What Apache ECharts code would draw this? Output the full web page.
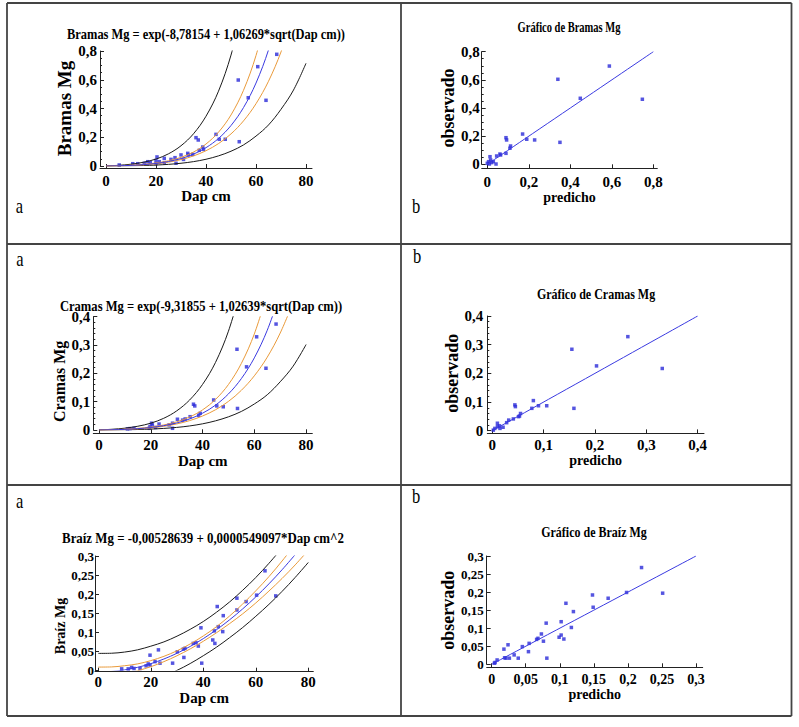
<!DOCTYPE html>
<html>
<head>
<meta charset="utf-8">
<script src="https://cdn.jsdelivr.net/npm/echarts@6/dist/echarts.min.js"></script>
<style>
html,body{margin:0;padding:0;background:#fff;}
#chart{width:799px;height:727px;}
</style>
</head>
<body>
<div id="chart"></div>
<script>
// ---------- data ----------
const dapGrid = [0,5,10,15,20,25,30,35,40,45,50,55,60,65,70,75,80];
const dapTicks = [0,20,40,60,80];
const bramasTicks = [0,0.2,0.4,0.6,0.8];
const cramasTicks = [0,0.1,0.2,0.3,0.4];
const braizTicks = [0,0.05,0.1,0.15,0.2,0.25,0.3];

// Panel 1: Bramas Mg
const bramasDap = [68.3,60.7,52.9,56.9,64.0,53.3,44.0,45.3,47.7,36.0,36.9,38.7,39.0,37.3,32.7,33.0,30.0,27.6,26.0,23.3,20.4,20.0,21.3,20.0,23.3,28.0,17.7,15.3,12.7,10.7,5.3,16.7,31.0,34.7];
const bramasMg = [0.777,0.691,0.598,0.475,0.457,0.169,0.220,0.186,0.186,0.197,0.181,0.132,0.116,0.109,0.088,0.077,0.077,0.058,0.046,0.053,0.063,0.039,0.030,0.016,0.023,0.019,0.023,0.019,0.016,0.016,0.007,0.030,0.046,0.081];
const bramasFit = [0.00015,0.00165,0.00442,0.00942,0.0178,0.0312,0.0518,0.0825,0.1274,0.1915,0.2816,0.4064,0.5770,0.8076,1.116];
const bramasPredUpper = [0.0005,0.0048,0.0124,0.0261,0.0484,0.0848,0.1408,0.2242,0.3463,0.5205,0.7716,1.126];
const bramasPredLower = [0.00005,0.00057,0.00158,0.0034,0.00655,0.01148,0.0191,0.0304,0.0469,0.0705,0.1028,0.1466,0.2081,0.2855,0.3945,0.5283,0.7144];
const bramasConfUpper = [0.00026,0.00232,0.00574,0.01159,0.0211,0.0363,0.0602,0.0970,0.1529,0.2353,0.3551,0.5267,0.7686,1.1056];
const bramasConfLower = [0.00009,0.00117,0.0034,0.00766,0.0150,0.0268,0.0445,0.0701,0.1063,0.1559,0.2233,0.3137,0.4333,0.5895,0.7935,1.055];
const bramasPred = [0.588,0.340,0.747,0.448,0.350,0.170,0.228,0.190,0.090,0.093,0.112,0.109,0.090,0.061,0.064,0.045,0.042,0.013,0.016,0.006,0.000,0.021,0.029,0.010];
const bramasObs = [0.698,0.604,0.462,0.469,0.156,0.215,0.173,0.178,0.189,0.173,0.130,0.114,0.078,0.073,0.066,0.059,0.002,0.054,0.031,0.019,0.007,0.012,0.019,0.002];
const bramasDiag = [0,0.8];

// Panel 2: Cramas Mg
const cramasDap = [68.4,60.9,53.3,57.0,64.5,53.5,44.3,45.5,48.0,36.5,37.0,39.1,38.5,35.2,33.3,32.3,30.3,28.4,27.1,28.4,23.2,20.3,20.6,19.7,21.9,19.4,13.5,12.0,11.0];
const cramasMg = [0.374,0.329,0.285,0.223,0.218,0.076,0.106,0.085,0.082,0.091,0.085,0.059,0.052,0.047,0.039,0.035,0.038,0.024,0.018,0.006,0.021,0.024,0.018,0.012,0.009,0.006,0.006,0.005,0.004];
const cramasFit = [0.00009,0.00089,0.0023,0.00478,0.00884,0.0152,0.0248,0.0389,0.0592,0.0877,0.1273,0.1815,0.2546,0.3522,0.4814];
const cramasPredUpper = [0.00028,0.00257,0.00645,0.01324,0.02404,0.0413,0.0674,0.1058,0.1609,0.2385,0.3488,0.5028];
const cramasPredLower = [0.00003,0.00031,0.00082,0.00173,0.00325,0.00559,0.00913,0.0143,0.0218,0.0323,0.0465,0.0655,0.0918,0.1245,0.1702,0.2255,0.3017];
const cramasConfUpper = [0.00016,0.00125,0.00299,0.00588,0.0105,0.0177,0.0288,0.0458,0.0710,0.1078,0.1605,0.2352,0.3391,0.4822];
const cramasConfLower = [0.00005,0.00063,0.00177,0.00389,0.00746,0.0130,0.0213,0.0331,0.0494,0.0714,0.1009,0.1401,0.1912,0.2571,0.3423,0.4503];
const cramasPred = [0.264,0.155,0.203,0.331,0.159,0.106,0.090,0.080,0.077,0.044,0.045,0.055,0.053,0.041,0.032,0.028,0.021,0.010,0.010,0.014,0.005,0.002,0.015,0.051];
const cramasObs = [0.328,0.284,0.226,0.217,0.078,0.087,0.087,0.105,0.078,0.090,0.084,0.060,0.051,0.041,0.037,0.028,0.012,0.026,0.014,0.017,0.008,0.002,0.008,0.049];
const cramasDiag = [0,0.4];

// Panel 3: Braíz Mg
const braizDap = [63.5,67.6,60.3,52.8,52.8,56.3,45.3,47.6,45.7,44.2,47.4,39.1,43.6,44.4,39.4,37.2,38.1,36.2,33.0,32.4,32.6,30.1,28.3,22.9,19.7,21.6,19.0,19.7,23.5,15.9,13.6,12.7,11.4,8.9,18.2];
const braizMg = [0.261,0.195,0.197,0.189,0.158,0.180,0.167,0.143,0.114,0.103,0.101,0.111,0.079,0.070,0.018,0.072,0.063,0.070,0.057,0.055,0.033,0.048,0.018,0.053,0.039,0.022,0.016,0.013,0.018,0.004,0.004,0.007,0.003,0.003,0.011];
const braizFit = [-0.0053,-0.0039,0.0002,0.0071,0.0167,0.0290,0.0441,0.0620,0.0826,0.1059,0.1320,0.1608,0.1924,0.2267,0.2638,0.3036];
const braizPredUpper = [0.0437,0.0441,0.0472,0.0531,0.0627,0.0740,0.0891,0.1070,0.1276,0.1519,0.1790,0.2098,0.2434,0.2807,0.3208];
const braizPredLower = [null,null,null,null,null,-0.0160,-0.0009,0.0170,0.0376,0.0599,0.0850,0.1118,0.1414,0.1727,0.2068,0.2436,0.2831];
const braizConfUpper = [0.0077,0.0081,0.0112,0.0161,0.0247,0.0360,0.0506,0.0685,0.0896,0.1139,0.1420,0.1738,0.2084,0.2457,0.2868,0.3306];
const braizConfLower = [null,null,-0.0108,-0.0019,0.0087,0.0220,0.0376,0.0555,0.0756,0.0979,0.1220,0.1478,0.1764,0.2077,0.2408,0.2766,0.3151];
const braizPred = [0.220,0.251,0.148,0.149,0.171,0.198,0.109,0.120,0.117,0.102,0.102,0.099,0.106,0.080,0.081,0.073,0.076,0.068,0.066,0.055,0.054,0.045,0.039,0.033,0.024,0.018,0.019,0.021,0.026,0.008,0.005,0.004];
const braizObs = [0.268,0.197,0.192,0.158,0.183,0.199,0.169,0.146,0.102,0.118,0.081,0.075,0.070,0.114,0.017,0.084,0.064,0.072,0.069,0.058,0.035,0.049,0.017,0.026,0.054,0.042,0.018,0.017,0.017,0.012,0.005,0.003];
const braizDiag = [0,0.3];

// ---------- helpers ----------
const FONT = 'Liberation Serif, serif';
const AXC = '#222';
const BLUE = '#2a2ad8';
const LINEBLUE = '#3a3ae0';
const ORANGE = '#e99a3a';
const BLACK = '#1a1a1a';
function fmt(v){ return String(Math.round(v*10000)/10000).replace('.', ','); }
function curve(vals){ return vals.map((v,i)=>[dapGrid[i], v]).filter(p=>p[1]!==null); }
function pts(xs, ys){ return xs.map((x,i)=>[x, ys[i]]); }

function xAx(g, min, max, ticks, offset, margin, name, nameGap, labelSize, nameSize){
  return {
    gridIndex:g, type:'value', min:min, max:max, offset:offset,
    axisLine:{show:true, onZero:false, lineStyle:{color:AXC, width:1}},
    axisTick:{show:true, inside:true, length:4, customValues:ticks, lineStyle:{color:AXC}},
    axisLabel:{customValues:ticks, formatter:fmt, margin:margin, fontSize:labelSize, fontWeight:'bold', fontFamily:FONT, color:'#000'},
    splitLine:{show:false},
    name:name, nameLocation:'middle', nameGap:nameGap,
    nameTextStyle:{fontSize:nameSize, fontWeight:'bold', fontFamily:FONT, color:'#000'}
  };
}
function yAx(g, max, interval, minorSplit, margin, name, nameGap, labelSize, nameSize, pad){
  return {
    gridIndex:g, type:'value', min:0, max:max, interval:interval,
    axisLine:{show:true, onZero:false, lineStyle:{color:AXC, width:1}},
    axisTick:{show:true, inside:true, length:4, lineStyle:{color:AXC}},
    minorTick:{show:minorSplit>0, splitNumber:minorSplit||5, length:2, lineStyle:{color:AXC}},
    axisLabel:{formatter:fmt, margin:margin, fontSize:labelSize, fontWeight:'bold', fontFamily:FONT, color:'#000'},
    splitLine:{show:false}, minorSplitLine:{show:false},
    name:name, nameLocation:'middle', nameGap:nameGap, nameRotate:90,
    nameTextStyle:{fontSize:nameSize, fontWeight:'bold', fontFamily:FONT, color:'#000', padding:pad||0}
  };
}
function line(g, data, color){
  return {type:'line', xAxisIndex:g, yAxisIndex:g, data:data, showSymbol:false, symbol:'none',
    smooth:0.35, clip:true, silent:true,
    lineStyle:{color:color, width:1}};
}
function scat(g, data){
  return {type:'scatter', xAxisIndex:g, yAxisIndex:g, data:data, symbol:'rect', symbolSize:3.5,
    itemStyle:{color:BLUE}, silent:true};
}
function txt(x, y, s, size, weight, sx){
  return {type:'text', x:x, y:y, scaleX:sx, silent:true,
    style:{text:s, fontSize:size, fontWeight:weight, fontFamily:FONT, fill:'#000', align:'center', verticalAlign:'middle'}};
}
function seg(x1,y1,x2,y2){
  return {type:'line', silent:true, shape:{x1:x1,y1:y1,x2:x2,y2:y2}, style:{stroke:'#444', lineWidth:1.8}};
}

const option = {
  animation:false,
  textStyle:{fontFamily:FONT},
  grid:[
    {left:100, top:51, width:212, height:115},
    {left:481.7, top:51.7, width:175.6, height:112.6},
    {left:93.3, top:316.7, width:219, height:113.3},
    {left:487.3, top:316, width:216.7, height:114.7},
    {left:95, top:556, width:218.3, height:114},
    {left:486.7, top:556, width:216, height:108.3}
  ],
  xAxis:[
    xAx(0, -2.4, 82.4, dapTicks, 2, 5, 'Dap cm', 16, 15, 15),
    xAx(1, -0.027, 0.819, bramasTicks, 4, 6, 'predicho', 18, 15, 14),
    xAx(2, -2.2, 82.4, dapTicks, 3.3, 4, 'Dap cm', 15, 15, 15),
    xAx(3, -0.0097, 0.4123, cramasTicks, 2.7, 4, 'predicho', 18, 15, 14),
    xAx(4, -1.26, 81.9, dapTicks, 1.7, 3, 'Dap cm', 13, 15, 15),
    xAx(5, -0.0073, 0.3098, braizTicks, 3, 5, 'predicho', 14, 14, 14)
  ],
  yAxis:[
    yAx(0, 0.8, 0.2, 4, 3, 'Bramas Mg', 21, 15, 19),
    yAx(1, 0.8, 0.2, 4, 2, 'observado', 16, 15, 18),
    yAx(2, 0.4, 0.1, 5, 3, 'Cramas Mg', 21, 15, 16, [0,16,0,0]),
    yAx(3, 0.4, 0.1, 5, 4, 'observado', 15, 15, 18),
    yAx(4, 0.3, 0.05, 0, 1, 'Braíz Mg', 26, 13, 14, [0,26,0,0]),
    yAx(5, 0.3, 0.05, 0, 3, 'observado', 26, 13, 18)
  ],
  series:[
    line(0, curve(bramasPredUpper), BLACK),
    line(0, curve(bramasPredLower), BLACK),
    line(0, curve(bramasConfUpper), ORANGE),
    line(0, curve(bramasConfLower), ORANGE),
    line(0, curve(bramasFit), LINEBLUE),
    scat(0, pts(bramasDap, bramasMg)),
    line(1, pts(bramasDiag, bramasDiag), LINEBLUE),
    scat(1, pts(bramasPred, bramasObs)),
    line(2, curve(cramasPredUpper), BLACK),
    line(2, curve(cramasPredLower), BLACK),
    line(2, curve(cramasConfUpper), ORANGE),
    line(2, curve(cramasConfLower), ORANGE),
    line(2, curve(cramasFit), LINEBLUE),
    scat(2, pts(cramasDap, cramasMg)),
    line(3, pts(cramasDiag, cramasDiag), LINEBLUE),
    scat(3, pts(cramasPred, cramasObs)),
    line(4, curve(braizPredUpper), BLACK),
    line(4, curve(braizPredLower), BLACK),
    line(4, curve(braizConfUpper), ORANGE),
    line(4, curve(braizConfLower), ORANGE),
    line(4, curve(braizFit), LINEBLUE),
    scat(4, pts(braizDap, braizMg)),
    line(5, pts(braizDiag, braizDiag), LINEBLUE),
    scat(5, pts(braizPred, braizObs))
  ],
  graphic:[
    seg(7,3,791.5,3), seg(7,716,791.5,716), seg(7,3,7,716), seg(791.5,3,791.5,716),
    seg(401,3,401,716), seg(7,244,791.5,244), seg(7,485,791.5,485),
    txt(206, 34, 'Bramas Mg = exp(-8,78154 + 1,06269*sqrt(Dap cm))', 15, 'bold', 0.83),
    txt(569, 27, 'Gráfico de Bramas Mg', 14, 'bold', 0.75),
    txt(201, 306, 'Cramas Mg = exp(-9,31855 + 1,02639*sqrt(Dap cm))', 15, 'bold', 0.84),
    txt(596, 294, 'Gráfico de Cramas Mg', 15, 'bold', 0.8),
    txt(203, 538, 'Braíz Mg = -0,00528639 + 0,0000549097*Dap cm^2', 15, 'bold', 0.86),
    txt(594, 532, 'Gráfico de Braíz Mg', 15, 'bold', 0.8),
    txt(19.5, 206, 'a', 22, 'normal', 0.75),
    txt(416, 206, 'b', 22, 'normal', 0.75),
    txt(20, 259, 'a', 22, 'normal', 0.75),
    txt(417, 256, 'b', 22, 'normal', 0.75),
    txt(19.7, 500.5, 'a', 22, 'normal', 0.75),
    txt(416, 495.5, 'b', 22, 'normal', 0.75)
  ]
};
const chart = echarts.init(document.getElementById('chart'), null, {renderer:'svg'});
chart.setOption(option);
</script>
</body>
</html>
